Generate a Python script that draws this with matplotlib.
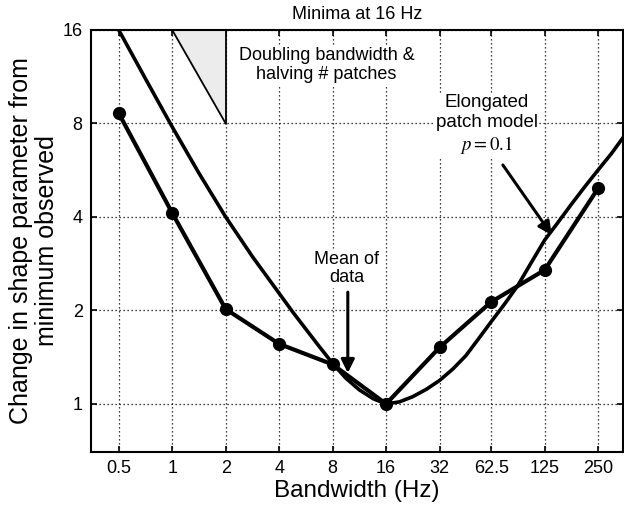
import matplotlib
matplotlib.use("Agg")
import matplotlib.pyplot as plt
from matplotlib.ticker import NullLocator, FixedLocator, FixedFormatter

plt.rcParams['font.family'] = ['Liberation Sans', 'DejaVu Sans']
plt.rcParams['mathtext.fontset'] = 'stix'

# ---- data ----
bandwidth = [0.5, 1, 2, 4, 8, 16, 32, 62.5, 125, 250]
data_mean = [8.63, 4.12, 2.02, 1.56, 1.34, 1.0, 1.52, 2.13, 2.70, 4.95]

model_x = [0.5, 0.71, 1, 1.41, 2, 2.83, 4, 4.76, 5.66, 6.73, 8, 9.5, 11.3, 13.5,
           16, 19, 22.6, 27, 32, 38, 45, 53, 62.5, 74, 88, 105, 125, 149, 177,
           210, 250, 297, 345]
model_y = [16, 11.1, 7.8, 5.55, 4.0, 2.98, 2.27, 1.98, 1.74, 1.53, 1.35, 1.21,
           1.11, 1.04, 1.0, 1.015, 1.055, 1.115, 1.19, 1.295, 1.43, 1.62, 1.84,
           2.09, 2.40, 2.85, 3.37, 3.85, 4.4, 5.0, 5.67, 6.4, 7.2]

tri_x = [1, 2, 2]
tri_y = [16, 16, 8]

xtick_vals = [0.5, 1, 2, 4, 8, 16, 32, 62.5, 125, 250]
xtick_labels = ['0.5', '1', '2', '4', '8', '16', '32', '62.5', '125', '250']
ytick_vals = [1, 2, 4, 8, 16]
ytick_labels = ['1', '2', '4', '8', '16']

fig = plt.figure(figsize=(6.24, 5.05), dpi=100)
ax = fig.add_axes([91/624, (505-452)/505, (623-91)/624, (452-30)/505])
ax.set_xscale('log')
ax.set_yscale('log')
ax.set_xlim(0.349, 345)
ax.set_ylim(0.70, 16)

ax.xaxis.set_major_locator(FixedLocator(xtick_vals))
ax.xaxis.set_major_formatter(FixedFormatter(xtick_labels))
ax.xaxis.set_minor_locator(NullLocator())
ax.yaxis.set_major_locator(FixedLocator(ytick_vals))
ax.yaxis.set_major_formatter(FixedFormatter(ytick_labels))
ax.yaxis.set_minor_locator(NullLocator())

ax.grid(True, which='major', color='black', linestyle=(0, (1, 2.2)), linewidth=0.9)
ax.set_axisbelow(True)
ax.tick_params(direction='in', top=True, right=True, length=4, width=1.2,
               labelsize=13, pad=6)
for s in ax.spines.values():
    s.set_linewidth(1.5)

# reference triangle
ax.fill(tri_x, tri_y, facecolor='#ececec', edgecolor='none', zorder=1.5, clip_on=False)
ax.plot([tri_x[0], tri_x[2]], [tri_y[0], tri_y[2]], color='black', lw=1.3, zorder=2)
ax.plot([tri_x[1], tri_x[2]], [tri_y[1], tri_y[2]], color='black', lw=1.3, zorder=2)

# curves
ax.plot(model_x, model_y, color='black', lw=2.6, zorder=3, solid_joinstyle='round')
ax.plot(bandwidth, data_mean, color='black', lw=3.0, marker='o', markersize=8.5,
        zorder=4, solid_joinstyle='round')

bbox = dict(facecolor='white', edgecolor='none', pad=1)
ax.text(7.4, 12.3, 'Doubling bandwidth &\nhalving # patches', ha='center', va='center',
        fontsize=13, linespacing=1.15, bbox=bbox, zorder=2.5)
ax.text(59, 7.9, 'Elongated\npatch model\n$p = 0.1$', ha='center', va='center',
        fontsize=13.5, linespacing=1.2, bbox=bbox, zorder=2.5)
ax.text(9.6, 2.73, 'Mean of\ndata', ha='center', va='center', fontsize=13,
        linespacing=1.1, bbox=bbox, zorder=2.5)

ax.annotate('', xy=(137, 3.5), xytext=(72.7, 5.88),
            arrowprops=dict(arrowstyle='-|>', lw=2.2, color='black', mutation_scale=20,
                            shrinkA=0, shrinkB=0), zorder=5)
ax.annotate('', xy=(9.74, 1.258), xytext=(9.74, 2.29),
            arrowprops=dict(arrowstyle='-|>', lw=2.2, color='black', mutation_scale=20,
                            shrinkA=0, shrinkB=0), zorder=5)

ax.set_title('Minima at 16 Hz', fontsize=13, pad=8)
ax.set_xlabel('Bandwidth (Hz)', fontsize=17.5)
ax.set_ylabel('Change in shape parameter from\nminimum observed', fontsize=18,
              linespacing=1.1)
ax.xaxis.set_label_coords(0.5, -0.066)
ax.yaxis.set_label_coords(-0.06, 0.5)

fig.savefig('out.png', dpi=100)
